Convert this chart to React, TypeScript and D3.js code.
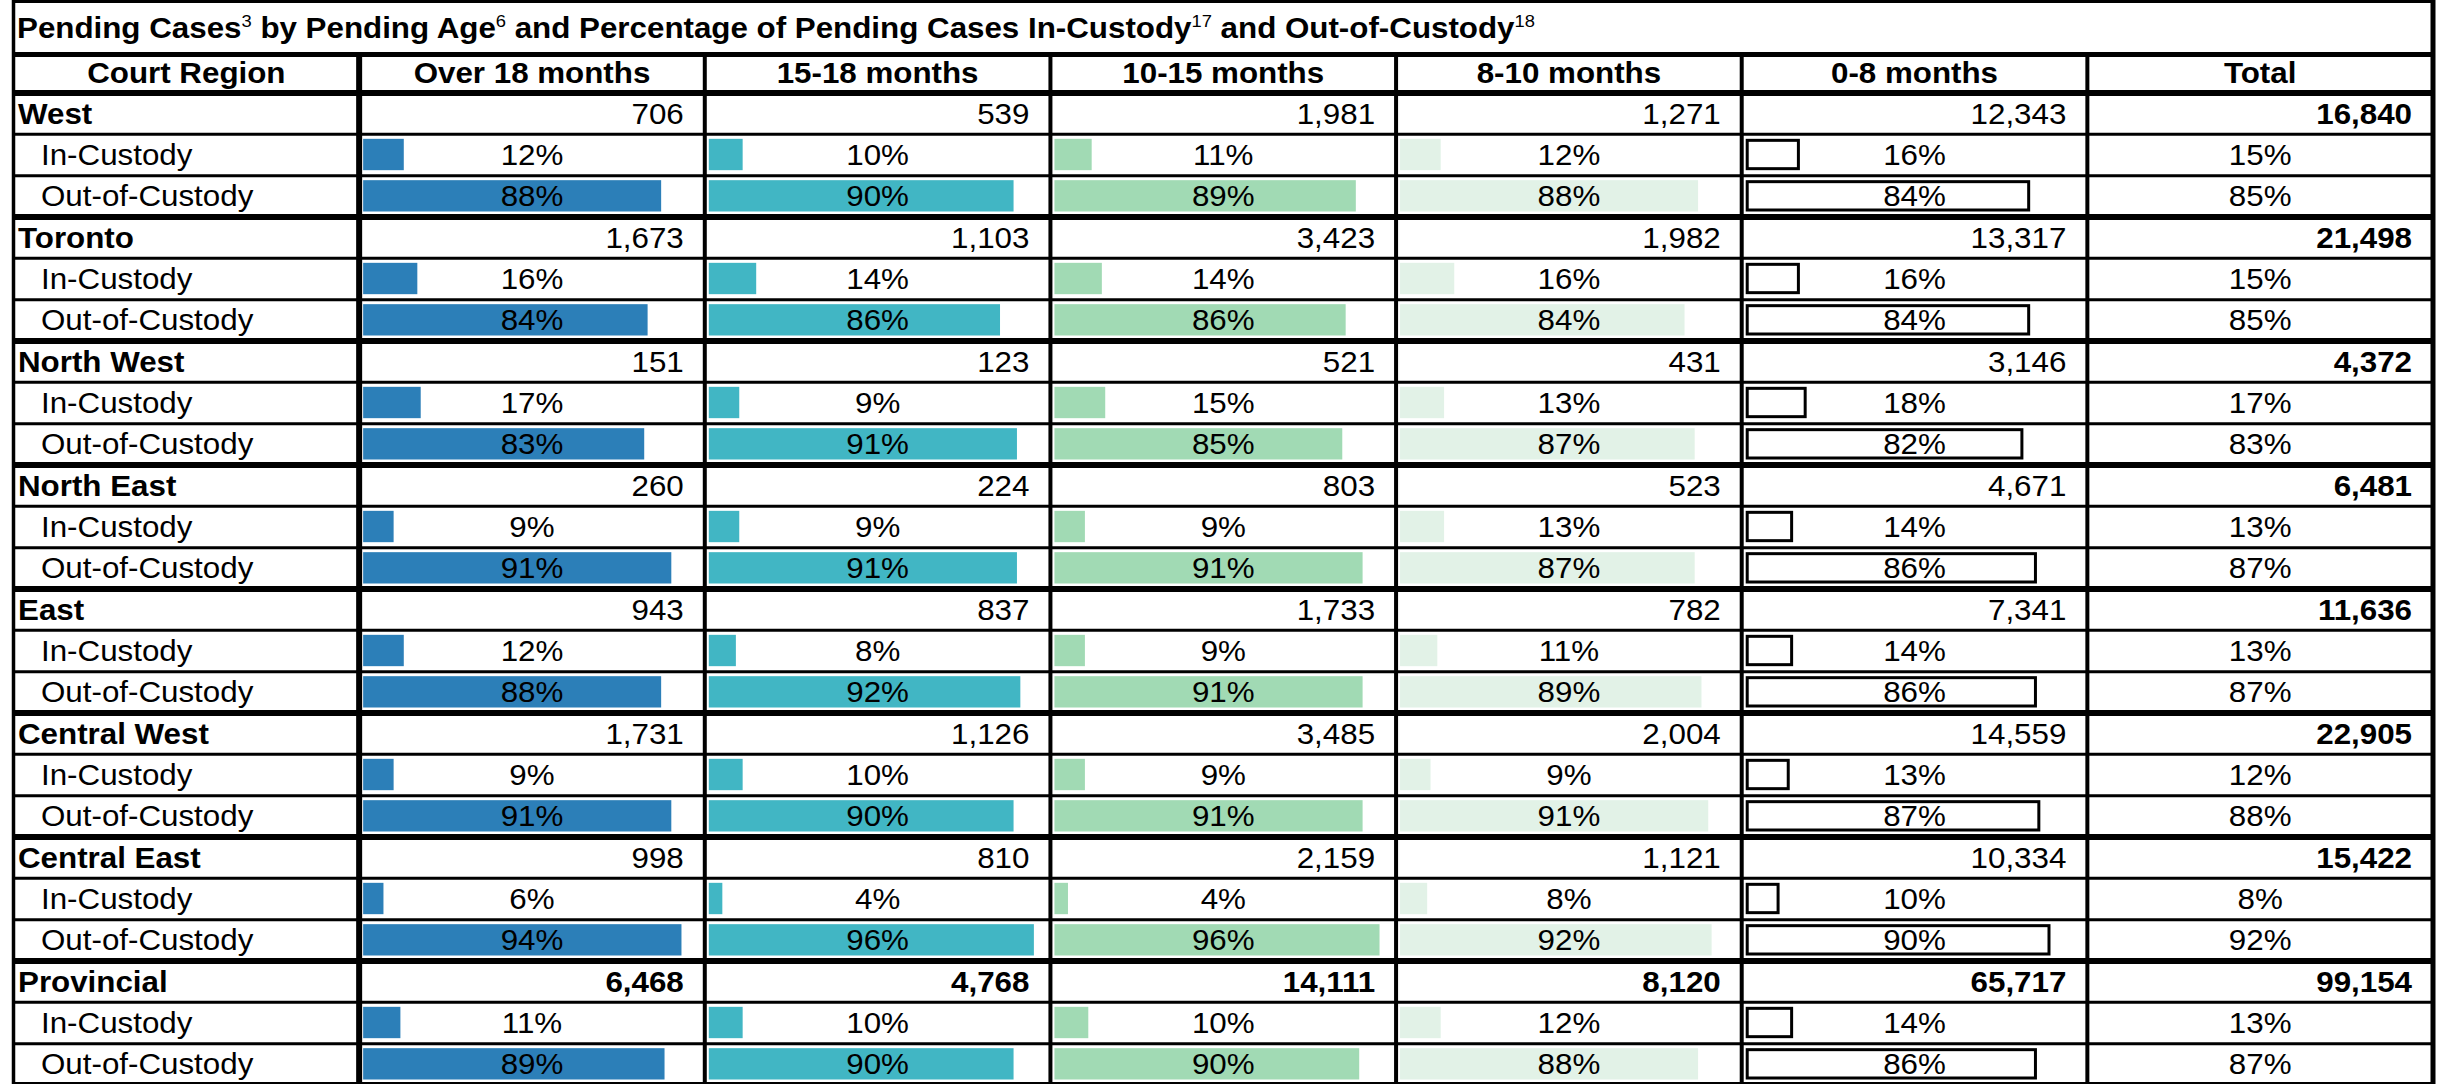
import React from 'react';
import * as d3 from 'd3';

const COLUMNS = ['Court Region', 'Over 18 months', '15-18 months', '10-15 months', '8-10 months', '0-8 months', 'Total'];
const REGIONS = ['West', 'Toronto', 'North West', 'North East', 'East', 'Central West', 'Central East', 'Provincial'];
const SUB_ROWS = ['In-Custody', 'Out-of-Custody'];

const casesOver18 = [706, 1673, 151, 260, 943, 1731, 998, 6468];
const cases15to18 = [539, 1103, 123, 224, 837, 1126, 810, 4768];
const cases10to15 = [1981, 3423, 521, 803, 1733, 3485, 2159, 14111];
const cases8to10 = [1271, 1982, 431, 523, 782, 2004, 1121, 8120];
const cases0to8 = [12343, 13317, 3146, 4671, 7341, 14559, 10334, 65717];
const casesTotal = [16840, 21498, 4372, 6481, 11636, 22905, 15422, 99154];

const inOver18 = [12, 16, 17, 9, 12, 9, 6, 11];
const in15to18 = [10, 14, 9, 9, 8, 10, 4, 10];
const in10to15 = [11, 14, 15, 9, 9, 9, 4, 10];
const in8to10 = [12, 16, 13, 13, 11, 9, 8, 12];
const in0to8 = [16, 16, 18, 14, 14, 13, 10, 14];
const inTotal = [15, 15, 17, 13, 13, 12, 8, 13];

const outOver18 = [88, 84, 83, 91, 88, 91, 94, 89];
const out15to18 = [90, 86, 91, 91, 92, 90, 96, 90];
const out10to15 = [89, 86, 85, 91, 91, 91, 96, 90];
const out8to10 = [88, 84, 87, 87, 89, 91, 92, 88];
const out0to8 = [84, 84, 82, 86, 86, 87, 90, 86];
const outTotal = [85, 85, 83, 87, 87, 88, 92, 87];

const TITLE_PARTS: [string, string][] = [
  ['Pending Cases', '3'],
  [' by Pending Age', '6'],
  [' and Percentage of Pending Cases In-Custody', '17'],
  [' and Out-of-Custody', '18'],
];

const COUNT_COLS = [casesOver18, cases15to18, cases10to15, cases8to10, cases0to8, casesTotal];
const IN_COLS = [inOver18, in15to18, in10to15, in8to10, in0to8, inTotal];
const OUT_COLS = [outOver18, out15to18, out10to15, out8to10, out0to8, outTotal];
const BAR_FILLS = ['#2c7fb8', '#41b6c4', '#a1dab4', '#e2f2e7', 'none'];

const W = 2443;
const H = 1084;
const FONT = '"Liberation Sans", Arial, Helvetica, sans-serif';
const FS = 29;
const SX = 1.08;

type TProps = {
  x: number;
  y: number;
  anchor?: 'start' | 'middle' | 'end';
  bold?: boolean;
  size?: number;
  children: React.ReactNode;
};

function T({ x, y, anchor = 'start', bold = false, size = FS, children }: TProps) {
  return (
    <text transform={`translate(${x},${y}) scale(${SX},1)`} textAnchor={anchor}
      fontWeight={bold ? 'bold' : 'normal'} fontSize={size}>
      {children}
    </text>
  );
}

export default function App() {
  const left = 13.5;
  const right = 2433;
  const titleLine = 54.5;
  const headerLine = 93;
  const groupH = 124;
  const rowH = groupH / 3;
  const base = 30.5;

  const x = d3.scaleBand<string>().domain(COLUMNS).range([left, right]).paddingInner(0).paddingOuter(0);
  const y = d3.scaleBand<string>().domain(REGIONS).range([headerLine, headerLine + groupH * REGIONS.length]);
  const barW = d3.scaleLinear().domain([0, 100]).range([0, x.bandwidth() - 7]);
  const fmt = d3.format(',');

  const cells: React.ReactNode[] = [];

  REGIONS.forEach((region, i) => {
    const y0 = y(region)!;
    const isProv = region === 'Provincial';
    cells.push(<T key={`rn${i}`} x={18} y={y0 + base} bold>{region}</T>);
    SUB_ROWS.forEach((s, j) => {
      cells.push(<T key={`sr${i}${j}`} x={41} y={y0 + rowH * (j + 1) + base}>{s}</T>);
    });
    COLUMNS.slice(1).forEach((col, c) => {
      const cx0 = x(col)!;
      const cx1 = cx0 + x.bandwidth();
      const isTotal = col === 'Total';
      cells.push(
        <T key={`n${i}${c}`} x={cx1 - 21} y={y0 + base} anchor="end" bold={isProv || isTotal}>
          {fmt(COUNT_COLS[c][i])}
        </T>
      );
      [IN_COLS[c][i], OUT_COLS[c][i]].forEach((v, j) => {
        const ry = y0 + rowH * (j + 1);
        if (!isTotal) {
          const fill = BAR_FILLS[c];
          if (fill === 'none') {
            cells.push(
              <rect key={`b${i}${c}${j}`} x={cx0 + 5.5} y={ry + 6} width={barW(v) - 3} height={rowH - 13}
                fill="#fff" stroke="#000" strokeWidth={3} />
            );
          } else {
            cells.push(
              <rect key={`b${i}${c}${j}`} x={cx0 + 4} y={ry + 4.5} width={barW(v)} height={rowH - 10}
                fill={fill} />
            );
          }
        }
        cells.push(
          <T key={`p${i}${c}${j}`} x={(cx0 + cx1) / 2} y={ry + base} anchor="middle">
            {`${v}%`}
          </T>
        );
      });
    });
  });

  const hLines: React.ReactNode[] = [];
  REGIONS.forEach((region, i) => {
    const y0 = y(region)!;
    hLines.push(<line key={`g${i}`} x1={left} x2={right} y1={y0} y2={y0} stroke="#000" strokeWidth={6} />);
    hLines.push(<line key={`s1${i}`} x1={left} x2={right} y1={y0 + rowH} y2={y0 + rowH} stroke="#000" strokeWidth={3} />);
    hLines.push(<line key={`s2${i}`} x1={left} x2={right} y1={y0 + 2 * rowH} y2={y0 + 2 * rowH} stroke="#000" strokeWidth={3} />);
  });

  const vLines = COLUMNS.slice(1).map((col, c) => {
    const xx = x(col)!;
    return <line key={`v${c}`} x1={xx} x2={xx} y1={titleLine} y2={H + 4} stroke="#000" strokeWidth={c === 0 ? 6 : 4} />;
  });

  return (
    <svg width={W} height={H} style={{ position: 'absolute', left: 0, top: 0, background: '#fff' }}
      fontFamily={FONT} fill="#000">
      <rect x={0} y={0} width={W} height={H} fill="#fff" />
      <text transform={`translate(17,38) scale(${SX},1)`} fontWeight="bold" fontSize={29}>
        {TITLE_PARTS.map(([t, sup], k) => (
          <React.Fragment key={k}>
            <tspan dy={k === 0 ? 0 : 11}>{t}</tspan>
            <tspan fontSize={17} dy={-11} fontWeight="normal">{sup}</tspan>
          </React.Fragment>
        ))}
      </text>
      {COLUMNS.map((col) => (
        <T key={col} x={x(col)! + x.bandwidth() / 2} y={83} anchor="middle" bold>
          {col}
        </T>
      ))}
      {cells}
      {hLines}
      <line x1={left} x2={right} y1={titleLine} y2={titleLine} stroke="#000" strokeWidth={5} />
      <line x1={left} x2={right} y1={H - 0.5} y2={H - 0.5} stroke="#000" strokeWidth={3} />
      {vLines}
      <line x1={left - 1.5} x2={right + 2} y1={1.5} y2={1.5} stroke="#000" strokeWidth={3} />
      <line x1={left} x2={left} y1={0} y2={H} stroke="#000" strokeWidth={3.5} />
      <line x1={right} x2={right} y1={0} y2={H} stroke="#000" strokeWidth={5} />
    </svg>
  );
}
